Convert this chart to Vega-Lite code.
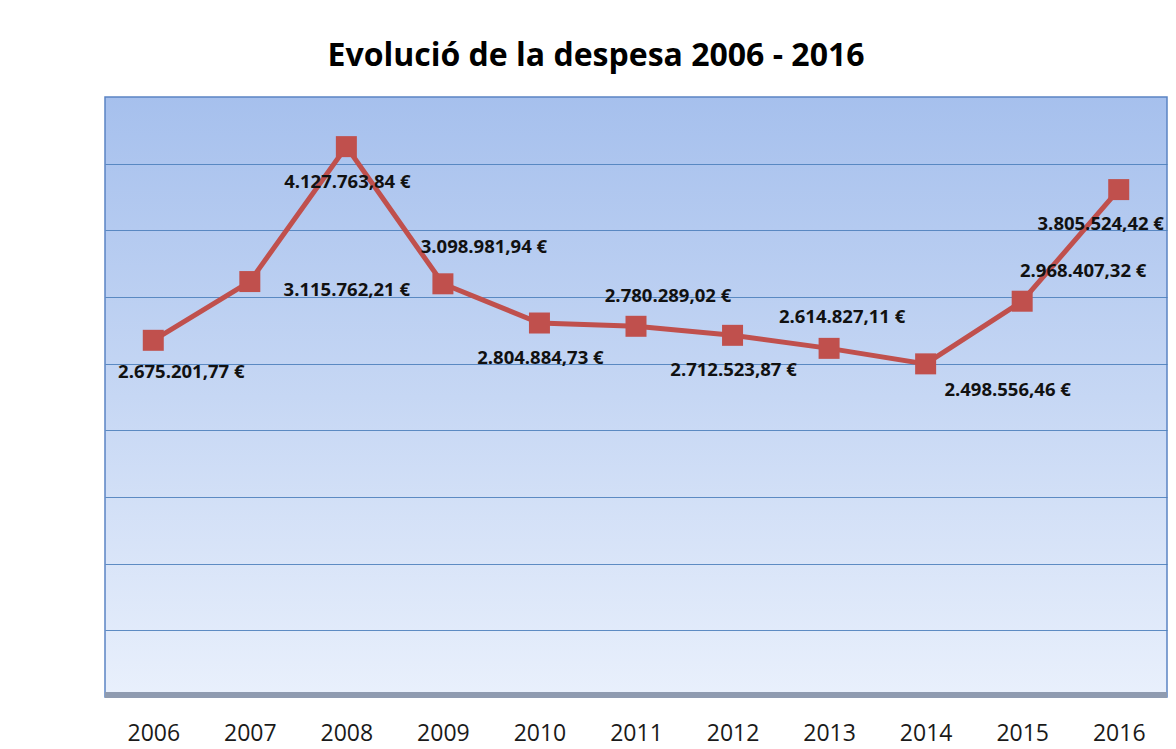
{
  "$schema": "https://vega.github.io/schema/vega-lite/v6.json",
  "width": 1062,
  "height": 600,
  "autosize": {"type": "none"},
  "padding": {"left": 105, "top": 97, "right": 9, "bottom": 52},
  "background": "white",
  "title": {
    "text": "Evolució de la despesa 2006 - 2016",
    "font": "Open Sans",
    "fontSize": 32,
    "fontWeight": "bold",
    "color": "#000000",
    "anchor": "middle",
    "dx": -40,
    "offset": 24
  },
  "data": {
    "values": [
      {"year": "2006", "value": 2675201.77},
      {"year": "2007", "value": 3115762.21},
      {"year": "2008", "value": 4127763.84},
      {"year": "2009", "value": 3098981.94},
      {"year": "2010", "value": 2804884.73},
      {"year": "2011", "value": 2780289.02},
      {"year": "2012", "value": 2712523.87},
      {"year": "2013", "value": 2614827.11},
      {"year": "2014", "value": 2498556.46},
      {"year": "2015", "value": 2968407.32},
      {"year": "2016", "value": 3805524.42}
    ]
  },
  "layer": [
    {
      "mark": {"type": "rule", "color": "#8f9bb0", "strokeWidth": 6, "opacity": 0.75},
      "encoding": {"y": {"datum": 15000, "type": "quantitative"}}
    },
    {
      "encoding": {
        "x": {
          "field": "year",
          "type": "ordinal",
          "scale": {"type": "point", "padding": 0.5},
          "axis": {
            "title": null,
            "labelAngle": 0,
            "labelFont": "Open Sans",
            "labelFontSize": 23,
            "labelColor": "#1a1a1a",
            "labelPadding": 25,
            "ticks": false,
            "domain": false,
            "grid": false
          }
        },
        "y": {
          "field": "value",
          "type": "quantitative",
          "scale": {"domain": [0, 4500000], "nice": false, "zero": true},
          "axis": {
            "title": null,
            "labels": false,
            "ticks": false,
            "domain": false,
            "grid": true,
            "gridColor": "#4f81bd",
            "gridWidth": 1,
            "gridOpacity": 0.9,
            "values": [500000, 1000000, 1500000, 2000000, 2500000, 3000000, 3500000, 4000000]
          }
        }
      },
      "layer": [
        {
          "mark": {"type": "line", "color": "#c0504d", "strokeWidth": 5},
          "encoding": {}
        },
        {
          "mark": {"type": "point", "shape": "square", "filled": true, "size": 441, "color": "#c0504d", "opacity": 1},
          "encoding": {}
        },
        {
          "transform": [{"filter": "indexof(['2008','2010','2012'], datum.year) >= 0"}],
          "mark": {"type": "text", "font": "Open Sans", "fontWeight": "bold", "fontSize": 18.5, "color": "#111111", "baseline": "middle", "align": "center", "dx": 1, "dy": 35},
          "encoding": {"text": {"field": "value", "type": "quantitative", "format": "$,.2f"}}
        },
        {
          "transform": [{"filter": "datum.year == '2006'"}],
          "mark": {"type": "text", "font": "Open Sans", "fontWeight": "bold", "fontSize": 18.5, "color": "#111111", "baseline": "middle", "align": "center", "dx": 28, "dy": 32},
          "encoding": {"text": {"field": "value", "type": "quantitative", "format": "$,.2f"}}
        },
        {
          "transform": [{"filter": "datum.year == '2007'"}],
          "mark": {"type": "text", "font": "Open Sans", "fontWeight": "bold", "fontSize": 18.5, "color": "#111111", "baseline": "middle", "align": "center", "dx": 97, "dy": 8},
          "encoding": {"text": {"field": "value", "type": "quantitative", "format": "$,.2f"}}
        },
        {
          "transform": [{"filter": "datum.year == '2009'"}],
          "mark": {"type": "text", "font": "Open Sans", "fontWeight": "bold", "fontSize": 18.5, "color": "#111111", "baseline": "middle", "align": "center", "dx": 41, "dy": -37},
          "encoding": {"text": {"field": "value", "type": "quantitative", "format": "$,.2f"}}
        },
        {
          "transform": [{"filter": "datum.year == '2011'"}],
          "mark": {"type": "text", "font": "Open Sans", "fontWeight": "bold", "fontSize": 18.5, "color": "#111111", "baseline": "middle", "align": "center", "dx": 32, "dy": -30},
          "encoding": {"text": {"field": "value", "type": "quantitative", "format": "$,.2f"}}
        },
        {
          "transform": [{"filter": "datum.year == '2013'"}],
          "mark": {"type": "text", "font": "Open Sans", "fontWeight": "bold", "fontSize": 18.5, "color": "#111111", "baseline": "middle", "align": "center", "dx": 13, "dy": -31},
          "encoding": {"text": {"field": "value", "type": "quantitative", "format": "$,.2f"}}
        },
        {
          "transform": [{"filter": "datum.year == '2014'"}],
          "mark": {"type": "text", "font": "Open Sans", "fontWeight": "bold", "fontSize": 18.5, "color": "#111111", "baseline": "middle", "align": "center", "dx": 82, "dy": 26},
          "encoding": {"text": {"field": "value", "type": "quantitative", "format": "$,.2f"}}
        },
        {
          "transform": [{"filter": "datum.year == '2015'"}],
          "mark": {"type": "text", "font": "Open Sans", "fontWeight": "bold", "fontSize": 18.5, "color": "#111111", "baseline": "middle", "align": "center", "dx": 61, "dy": -30},
          "encoding": {"text": {"field": "value", "type": "quantitative", "format": "$,.2f"}}
        },
        {
          "transform": [{"filter": "datum.year == '2016'"}],
          "mark": {"type": "text", "font": "Open Sans", "fontWeight": "bold", "fontSize": 18.5, "color": "#111111", "baseline": "middle", "align": "center", "dx": -18, "dy": 34},
          "encoding": {"text": {"field": "value", "type": "quantitative", "format": "$,.2f"}}
        }
      ]
    }
  ],
  "config": {
    "locale": {
      "number": {"decimal": ",", "thousands": ".", "grouping": [3], "currency": ["", " €"]}
    },
    "view": {
      "stroke": "#5b84c4",
      "strokeWidth": 1.5,
      "fill": {
        "gradient": "linear",
        "x1": 0, "y1": 0, "x2": 0, "y2": 1,
        "stops": [
          {"offset": 0, "color": "#a6c0ed"},
          {"offset": 0.5, "color": "#c6d7f4"},
          {"offset": 1, "color": "#e9f0fc"}
        ]
      }
    }
  }
}
